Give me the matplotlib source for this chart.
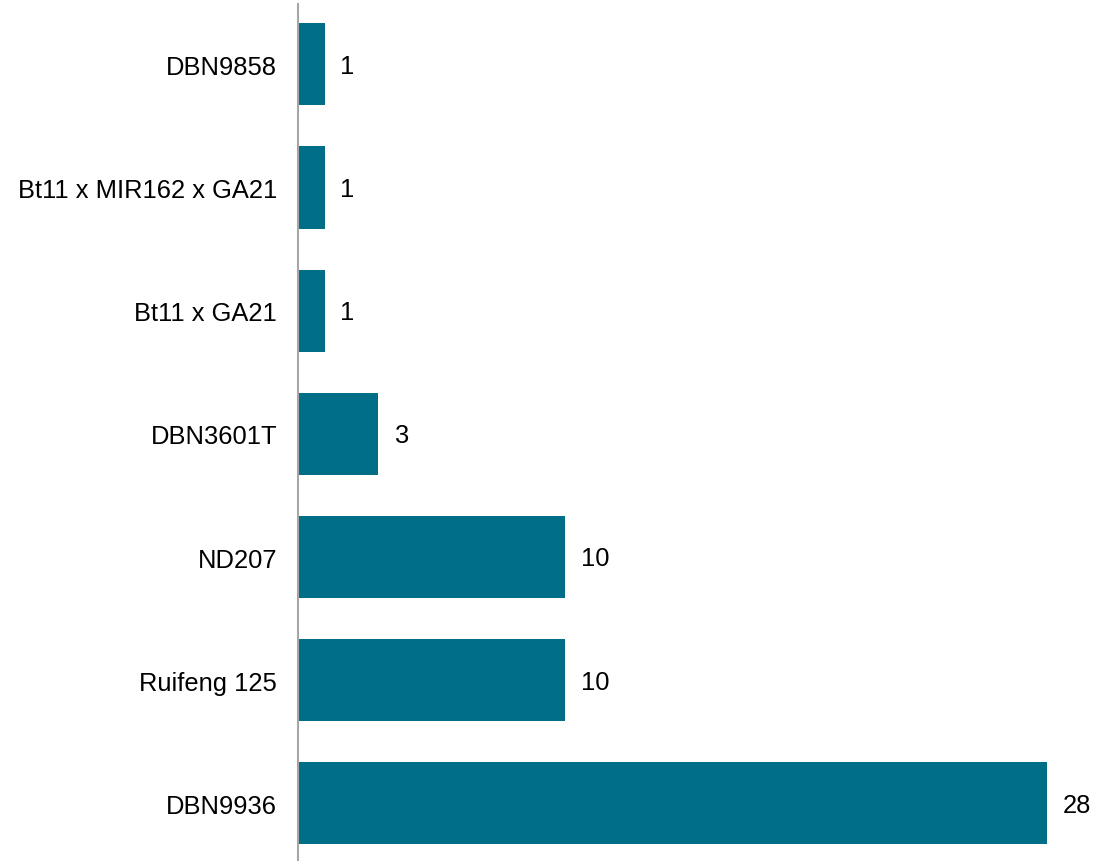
import matplotlib.pyplot as plt

# categories listed bottom to top
EVENTS = ['DBN9936', 'Ruifeng 125', 'ND207', 'DBN3601T',
          'Bt11 x GA21', 'Bt11 x MIR162 x GA21', 'DBN9858']
COUNTS = [28, 10, 10, 3, 1, 1, 1]

BAR_COLOR = '#006E87'

plt.rcParams['font.family'] = ['Liberation Sans', 'DejaVu Sans']

fig = plt.figure(figsize=(10.94, 8.62), dpi=100)
ax = fig.add_axes([298 / 1094, 1 / 862, 749 / 1094, 856 / 862])

pos = list(range(len(EVENTS)))
ax.barh(pos, COUNTS, height=0.668, color=BAR_COLOR)

for y, v in zip(pos, COUNTS):
    ax.annotate(str(v), (v, y), xytext=(11, -1), textcoords='offset points',
                va='center', ha='left', fontsize=18.4, color='#000000',
                annotation_clip=False)

ax.set_yticks(pos)
ax.set_yticklabels(EVENTS, fontsize=18.4)
ax.tick_params(axis='y', length=0, pad=15)
ax.set_xticks([])
ax.set_xlim(0, 28)
ax.set_ylim(-0.46, 6.49)

for side in ['top', 'right', 'bottom']:
    ax.spines[side].set_visible(False)
ax.spines['left'].set_color('#A6A6A6')
ax.spines['left'].set_linewidth(1.5)

fig.savefig('out.png', dpi=100)
